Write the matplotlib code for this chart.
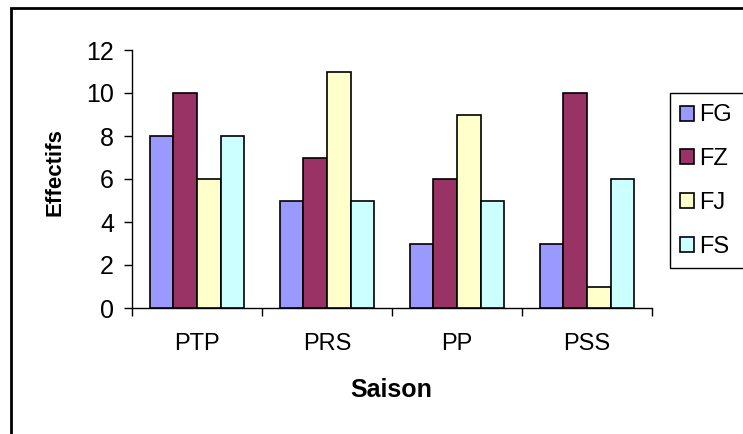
import matplotlib.pyplot as plt
import numpy as np
from matplotlib.patches import Rectangle

plt.rcParams['font.family'] = ['Liberation Sans', 'DejaVu Sans']

saisons = ['PTP', 'PRS', 'PP', 'PSS']
series = ['FG', 'FZ', 'FJ', 'FS']
fg = [8, 5, 3, 3]
fz = [10, 7, 6, 10]
fj = [6, 11, 9, 1]
fs = [8, 5, 5, 6]
colors = ['#9999FF', '#993366', '#FFFFCC', '#CCFFFF']

W, H = 743, 434
fig = plt.figure(figsize=(W / 100, H / 100), dpi=100)
ax = fig.add_axes([132 / W, 1 - 308 / H, 520 / W, 258 / H])

# bars: 4 per category, gap of 1.5 bar widths between groups
bw = 1 / 5.5
x = np.arange(len(saisons)) + 0.5
for i, (vals, c) in enumerate(zip([fg, fz, fj, fs], colors)):
    ax.bar(x + (i - 1.5) * bw, vals, width=bw, color=c, edgecolor='black',
           linewidth=1.2, label=series[i], zorder=3)

ax.set_xlim(0, len(saisons))
ax.set_ylim(0, 12)
ax.set_yticks(range(0, 13, 2))
ax.set_xticks(x)
ax.set_xticklabels(saisons)
ax.set_xticks(np.arange(len(saisons) + 1), minor=True)
ax.tick_params(axis='x', which='major', length=0, pad=18, labelsize=17)
ax.tick_params(axis='x', which='minor', length=6, width=1)
ax.tick_params(axis='y', length=6, width=1, pad=7, labelsize=18)
for s in ['top', 'right']:
    ax.spines[s].set_visible(False)
for s in ['left', 'bottom']:
    ax.spines[s].set_linewidth(1)

fig.text(55 / W, 1 - 172 / H, 'Effectifs', rotation=90, ha='center', va='center',
         fontsize=16, fontweight='bold')
fig.text(391 / W, 1 - 397 / H, 'Saison', ha='center', va='baseline',
         fontsize=18, fontweight='bold')

# legend and its frame
handles, labels = ax.get_legend_handles_labels()
fig.legend(handles, labels, loc='center left', bbox_to_anchor=(680 / W, 1 - 181 / H),
           frameon=False, fontsize=17, handlelength=0.6, handleheight=0.6,
           handletextpad=0.2, labelspacing=0.92, borderpad=0, borderaxespad=0)
fig.patches.append(Rectangle((670 / W, 1 - 268 / H), 0.2, 175 / H, transform=fig.transFigure,
                             fill=False, edgecolor='black', linewidth=1))

# outer border
fig.patches.append(Rectangle((11 / W, -0.1), 1.1, 1.1 - 8 / H, transform=fig.transFigure,
                             fill=False, edgecolor='black', linewidth=2))

fig.savefig('out.png', dpi=100)
